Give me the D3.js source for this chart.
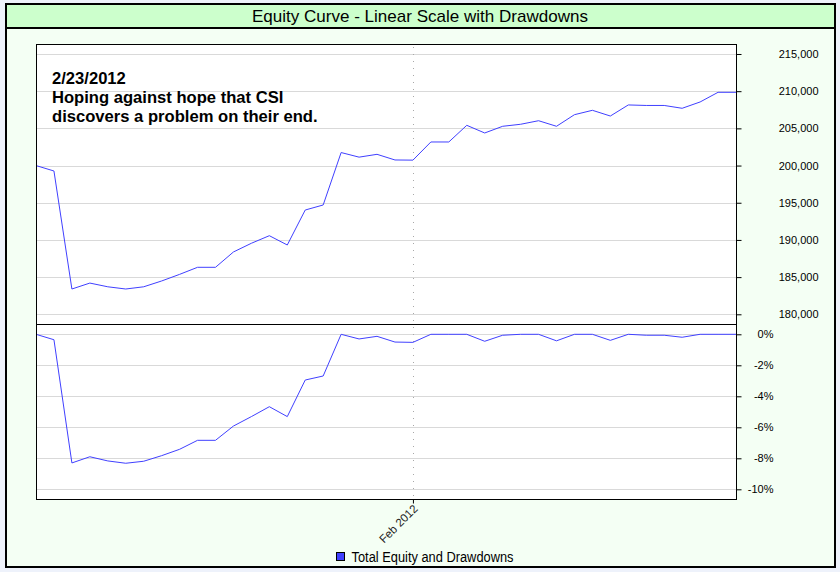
<!DOCTYPE html>
<html><head><meta charset="utf-8">
<script src="https://cdn.jsdelivr.net/npm/d3@7"></script>
<style>html,body{margin:0;padding:0;background:#EEF2FB;} svg{display:block;font-family:"Liberation Sans",Arial,sans-serif;}</style>
</head><body><svg id="c" width="840" height="572"></svg>
<script>
// ---- data ----
const equity = [200000,199270,183400,184200,183700,183400,183700,184480,185370,186320,
  186320,188380,189550,190570,189320,194020,194700,201750,201130,201510,
  200750,200730,203170,203170,205410,204380,205280,205550,206030,205280,
  206840,207430,206660,208150,208080,208080,207700,208550,209850,209850];
const drawdown = [0,-0.35,-8.3,-7.9,-8.17,-8.32,-8.19,-7.83,-7.42,-6.84,
  -6.84,-5.92,-5.31,-4.67,-5.31,-2.95,-2.69,0,-0.3,-0.13,
  -0.5,-0.52,0,0,0,-0.45,-0.06,0,0,-0.42,
  0,0,-0.39,0,-0.06,-0.06,-0.19,0,0,0];
const equityTicks = [180000,185000,190000,195000,200000,205000,210000,215000];
const drawdownTicks = [0,-2,-4,-6,-8,-10];
const xTickIndex = [21];
const xTickLabels = ["Feb 2012"];
const titleText = "Equity Curve - Linear Scale with Drawdowns";
const noteLines = ["2/23/2012","Hoping against hope that CSI","discovers a problem on their end."];
const seriesName = "Total Equity and Drawdowns";

// ---- layout ----
const svg = d3.select("#c");
const L = 36, R = 736, T = 44, MID = 324, B = 499;
const lineColor = "#4040FF";

// frame
svg.append("rect").attr("x",6).attr("y",4).attr("width",829).attr("height",563)
  .attr("fill","#F4FFF4").attr("stroke","#000").attr("stroke-width",2);
svg.append("rect").attr("x",6).attr("y",4).attr("width",829).attr("height",24)
  .attr("fill","#CCFFCC").attr("stroke","#000").attr("stroke-width",2);
svg.append("text").attr("x",420).attr("y",22).attr("text-anchor","middle")
  .attr("font-size",17).attr("textLength",336).attr("lengthAdjust","spacingAndGlyphs")
  .text(titleText);

// plot background
svg.append("rect").attr("x",L).attr("y",T).attr("width",R-L).attr("height",B-T).attr("fill","#fff");

// scales
const x = d3.scaleLinear().domain([0, equity.length-1]).range([L, R]);
const yTop = d3.scaleLinear().domain([178695.7, 216344.6]).range([MID, T]);
const yBot = d3.scaleLinear().domain([-10.626, 0.665]).range([B, MID]);

// gridlines
const grid = svg.append("g").attr("stroke","#D9D9D9").attr("shape-rendering","crispEdges");
grid.selectAll("line.t").data(equityTicks).join("line")
  .attr("x1",L).attr("x2",R).attr("y1",d=>Math.round(yTop(d))+0.5).attr("y2",d=>Math.round(yTop(d))+0.5);
grid.selectAll("line.b").data(drawdownTicks).join("line").attr("class","b")
  .attr("x1",L).attr("x2",R).attr("y1",d=>Math.round(yBot(d))+0.5).attr("y2",d=>Math.round(yBot(d))+0.5);

// dotted date line
svg.selectAll("line.vd").data(xTickIndex).join("line").attr("class","vd")
  .attr("x1",d=>Math.round(x(d))+0.5).attr("x2",d=>Math.round(x(d))+0.5)
  .attr("y1",T+3).attr("y2",B).attr("stroke","#A8A8A8").attr("stroke-dasharray","1,6");

// lines
svg.append("path").datum(equity).attr("fill","none").attr("stroke",lineColor).attr("stroke-width",1)
  .attr("d", d3.line().x((d,i)=>x(i)).y(d=>yTop(d)));
svg.append("path").datum(drawdown).attr("fill","none").attr("stroke",lineColor).attr("stroke-width",1)
  .attr("d", d3.line().x((d,i)=>x(i)).y(d=>yBot(d)));

// borders
svg.append("rect").attr("x",L+0.5).attr("y",T+0.5).attr("width",R-L).attr("height",B-T)
  .attr("fill","none").attr("stroke","#000").attr("shape-rendering","crispEdges");
svg.append("line").attr("x1",L).attr("x2",R).attr("y1",MID+0.5).attr("y2",MID+0.5)
  .attr("stroke","#000").attr("shape-rendering","crispEdges");

// right axes
const axTop = svg.append("g").attr("transform",`translate(${R+0.5},0)`)
  .call(d3.axisRight(yTop).tickValues(equityTicks).tickSize(5).tickFormat(d3.format(",")));
axTop.select(".domain").remove();
axTop.selectAll("text").attr("x",82).attr("text-anchor","end").attr("font-size",11)
  .attr("font-family",'"Liberation Sans",Arial,sans-serif').attr("fill","#000");
const axBot = svg.append("g").attr("transform",`translate(${R+0.5},0)`)
  .call(d3.axisRight(yBot).tickValues(drawdownTicks).tickSize(5).tickFormat(d=>`${d}%`));
axBot.select(".domain").remove();
axBot.selectAll("text").attr("x",37).attr("text-anchor","end").attr("font-size",11)
  .attr("font-family",'"Liberation Sans",Arial,sans-serif').attr("fill","#000");

// bottom axis
const axX = svg.append("g").attr("transform",`translate(0,${B+0.5})`)
  .call(d3.axisBottom(x).tickValues(xTickIndex).tickSize(4).tickFormat((d,i)=>xTickLabels[i]));
axX.select(".domain").remove();
axX.selectAll("text").attr("font-size",11.5).attr("font-family",'"Liberation Sans",Arial,sans-serif')
  .attr("fill","#222").attr("text-anchor","end").attr("dy",0).attr("y",0).attr("x",0)
  .attr("transform","translate(5,10) rotate(-45)");

// annotation
const note = svg.append("text").attr("font-weight","bold").attr("font-size",16.6).attr("fill","#000");
note.selectAll("tspan").data(noteLines).join("tspan").attr("x",52).attr("y",(d,i)=>83.5+i*19.3).text(d=>d);

// legend
svg.append("rect").attr("x",336.5).attr("y",552.5).attr("width",8).attr("height",8)
  .attr("fill",lineColor).attr("stroke","#000");
svg.append("text").attr("x",351.5).attr("y",562).attr("font-size",14)
  .attr("textLength",162).attr("lengthAdjust","spacingAndGlyphs").text(seriesName);
</script></body></html>
